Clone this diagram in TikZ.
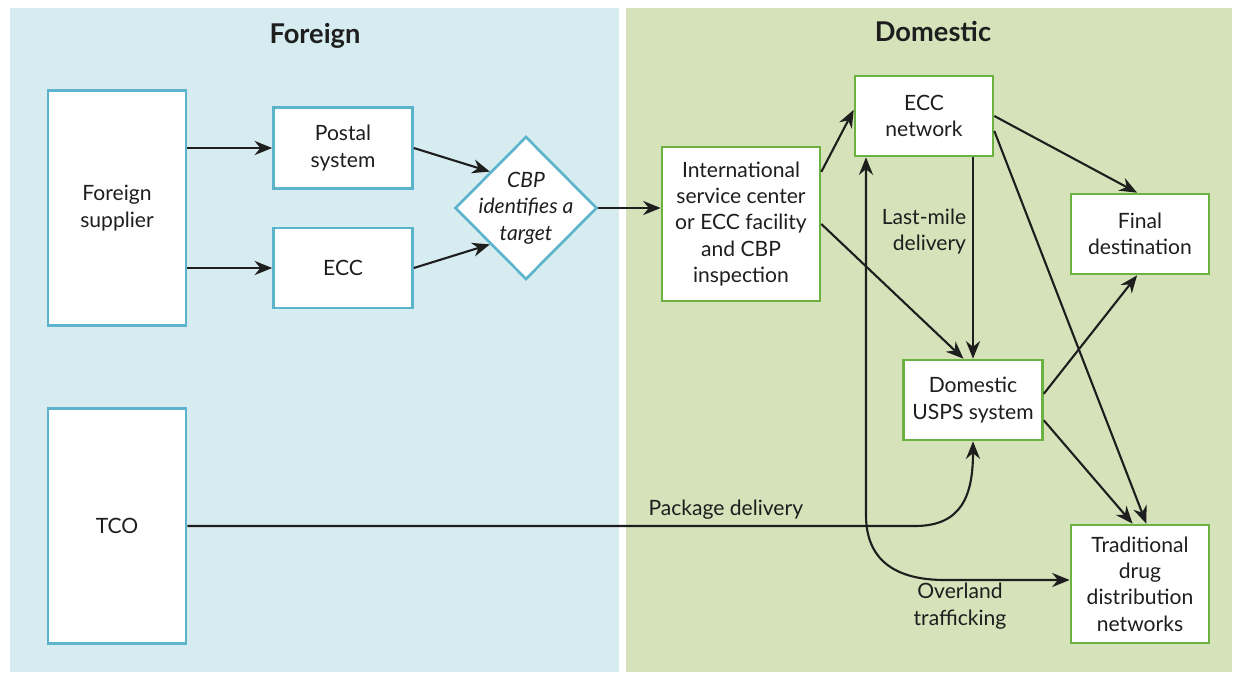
\documentclass[tikz,border=0pt]{standalone}
\usepackage{fontspec}
\setmainfont{Lato}
\usetikzlibrary{arrows.meta,shapes.geometric}

\definecolor{bgblue}{RGB}{214,236,240}
\definecolor{bggreen}{RGB}{213,226,186}
\definecolor{lineblue}{RGB}{91,180,204}
\definecolor{linegreen}{RGB}{108,178,66}
\definecolor{ink}{RGB}{30,30,30}

\tikzset{
    fbox/.style={draw=lineblue, line width=1.5pt, fill=white, align=center, text=ink},
    dbox/.style={draw=linegreen, line width=1.5pt, fill=white, align=center, text=ink},
    arr/.style={draw=ink, line width=1.2pt, -{Stealth[length=10pt,width=8pt]}},
    darr/.style={draw=ink, line width=1.2pt, {Stealth[length=10pt,width=8pt]}-{Stealth[length=10pt,width=8pt]}},
    lbl/.style={text=ink, align=center}
}

\begin{document}
\begin{tikzpicture}[x=0.02cm, y=-0.02cm, font=\fontsize{12}{15}\selectfont]
        \useasboundingbox (0,0) rectangle (1235,674);
        % panels
        \fill[bgblue] (10,8) rectangle (619,672);
        \fill[bggreen] (626,8) rectangle (1232,672);
        \node[lbl, font=\fontsize{15.5}{18}\selectfont\bfseries] (foreign) at (315,36) {Foreign};
        \node[lbl, font=\fontsize{15.5}{18}\selectfont\bfseries] (domestic) at (933,31) {Domestic};

        % foreign side
        \node[fbox, minimum width=2.76cm, minimum height=4.7cm] (fs) at (117,208) {Foreign\\supplier};
        \node[fbox, minimum width=2.76cm, minimum height=4.7cm] (tco) at (117,526) {TCO};
        \node[fbox, minimum width=2.78cm, minimum height=1.62cm] (postal) at (343,148) {Postal\\system};
        \node[fbox, minimum width=2.78cm, minimum height=1.6cm] (ecc) at (343,268) {ECC};
        \node[diamond, draw=lineblue, line width=1.5pt, fill=white, inner sep=0pt,
              minimum width=2.84cm, minimum height=2.86cm,
              label={[lbl, font=\fontsize{12}{15}\selectfont\itshape]center:CBP\\identifies a\\target}] (cbp) at (526,208) {};

        % domestic side
        \node[dbox, minimum width=3.16cm, minimum height=3.08cm] (isc) at (741,224)
            {International\\service center\\or ECC facility\\and CBP\\inspection};
        \node[dbox, minimum width=2.76cm, minimum height=1.6cm] (eccnet) at (924,116) {ECC\\network};
        \node[dbox, minimum width=2.76cm, minimum height=1.6cm] (final) at (1140,234) {Final\\destination};
        \node[dbox, minimum width=2.78cm, minimum height=1.6cm] (usps) at (973,400) {Domestic\\USPS system};
        \node[dbox, minimum width=2.76cm, minimum height=2.36cm] (trad) at (1140,584)
            {Traditional\\drug\\distribution\\networks};

        \coordinate (olbend) at (866,515);
        \coordinate (olend) at (945,580);
        \coordinate (pkbend) at (915,526);

        % connectors
        \draw[arr] (fs.east |- postal.west) -- (postal.west);
        \draw[arr] (fs.east |- ecc.west) -- (ecc.west);
        \draw[arr] (postal.east) -- (cbp.north west);
        \draw[arr] (ecc.east) -- (cbp.south west);
        \draw[arr] (cbp.east) -- (cbp.east -| isc.west);
        \draw[arr] (isc.33) -- (eccnet.175);
        \draw[arr] (isc.east) -- (usps.103);
        \draw[arr] (eccnet.south -| usps.north) -- node[lbl, pos=0.37, left, align=right] {Last-mile\\delivery} (usps.north);
        \draw[arr] (eccnet.east) -- (final.94);
        \draw[arr] (eccnet.-12) -- (trad.84);
        \draw[arr] (usps.5) -- (final.-94);
        \draw[arr] (usps.-16) -- (trad.97);
        \draw[arr] (tco.east) -- node[lbl, pos=0.74, above] {Package delivery} (pkbend)
            .. controls (962,526) and (usps.south |- 0,495) .. (usps.south);
        \draw[darr] (eccnet.south -| olbend) -- (olbend)
            .. controls (866,560) and (895,580) .. (olend) -- (trad.west |- olend);
        \node[lbl] (overland) at (960,606) {Overland\\trafficking};
\end{tikzpicture}
\end{document}
